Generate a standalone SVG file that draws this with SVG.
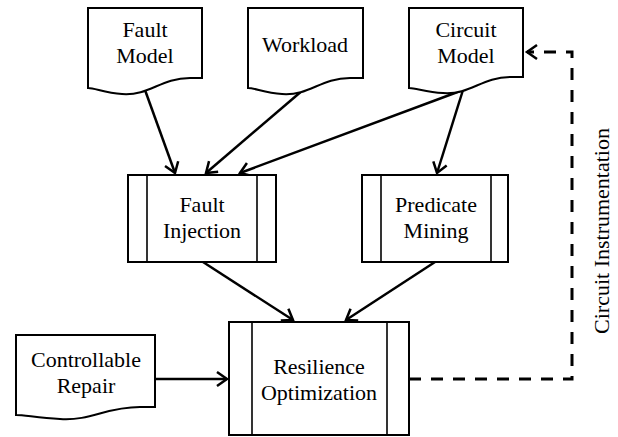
<svg xmlns="http://www.w3.org/2000/svg" width="618" height="437" viewBox="0 0 618 437" font-family="'Liberation Serif', 'Times New Roman', serif">
<style>
.box{fill:#fff;stroke:#000;stroke-width:2}
.ln{fill:none;stroke:#000;stroke-width:1.6}
text{font-family:'Liberation Serif','Times New Roman',serif;font-size:22px;fill:#000;text-anchor:middle}
.c{fill:none;stroke:#000;stroke-width:2.5}
.d{fill:none;stroke:#000;stroke-width:3;stroke-dasharray:12 10}
</style>
<defs>
<marker id="ah" markerUnits="userSpaceOnUse" markerWidth="20" markerHeight="20" refX="12" refY="8" orient="auto" viewBox="0 0 20 16">
<path d="M2,1 L12,8 L2,15" fill="none" stroke="#000" stroke-width="2.5"/>
</marker>
</defs>
<rect width="618" height="437" fill="#fff"/>
<g id="connectors">
<line class="c" x1="145" y1="90" x2="175" y2="173" marker-end="url(#ah)"/>
<line class="c" x1="303" y1="90" x2="206" y2="173" marker-end="url(#ah)"/>
<line class="c" x1="463" y1="90" x2="240" y2="173" marker-end="url(#ah)"/>
<line class="c" x1="463" y1="90" x2="437" y2="173" marker-end="url(#ah)"/>
<line class="c" x1="203" y1="262" x2="293" y2="320" marker-end="url(#ah)"/>
<line class="c" x1="435" y1="262" x2="346" y2="320" marker-end="url(#ah)"/>
<line class="c" x1="155" y1="379" x2="227" y2="379" marker-end="url(#ah)"/>
<path class="d" d="M409,379 H572 V52 H527" marker-end="url(#ah)"/>
</g>
<g id="fault-model">
<path class="box" d="M88,8 H202 V78 H190 C160,78 150,96 122,94 C105,93 95,88 88,88 Z"/>
<text x="145" y="37">Fault</text>
<text x="145" y="63">Model</text>
</g>
<g id="workload">
<path class="box" d="M248,8 H363 V78 H350 C320,78 310,96 282,94 C265,93 255,88 248,88 Z"/>
<text x="305" y="52">Workload</text>
</g>
<g id="circuit-model">
<path class="box" d="M409,8 H523 V77 H511 C481,77 471,95 443,93 C426,92 416,88 409,88 Z"/>
<text x="466" y="37">Circuit</text>
<text x="466" y="63">Model</text>
</g>
<g id="fault-injection">
<rect class="box" x="128" y="175" width="148" height="87"/>
<line class="ln" x1="147" y1="175" x2="147" y2="262"/>
<line class="ln" x1="257" y1="175" x2="257" y2="262"/>
<text x="202" y="212">Fault</text>
<text x="202" y="238">Injection</text>
</g>
<g id="predicate-mining">
<rect class="box" x="362" y="175" width="146" height="87"/>
<line class="ln" x1="381" y1="175" x2="381" y2="262"/>
<line class="ln" x1="491" y1="175" x2="491" y2="262"/>
<text x="436" y="212">Predicate</text>
<text x="436" y="238">Mining</text>
</g>
<g id="controllable-repair">
<path class="box" d="M16,335 H155 V407 H140 C105,407 92,421 60,419 C38,418 25,415 16,415 Z"/>
<text x="86" y="367">Controllable</text>
<text x="86" y="393">Repair</text>
</g>
<g id="resilience-optimization">
<rect class="box" x="229" y="322" width="180" height="113"/>
<line class="ln" x1="252" y1="322" x2="252" y2="435"/>
<line class="ln" x1="387" y1="322" x2="387" y2="435"/>
<text x="319" y="374">Resilience</text>
<text x="319" y="400">Optimization</text>
</g>
<g id="label">
<text transform="translate(609,231) rotate(-90)">Circuit Instrumentation</text>
</g>
</svg>
